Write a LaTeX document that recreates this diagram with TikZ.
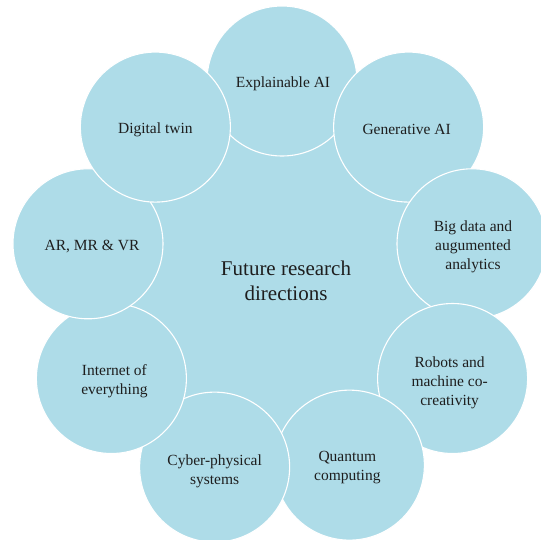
\documentclass[tikz,border=0pt]{standalone}
\usepackage{fontspec}
\setmainfont{Liberation Serif}
\definecolor{bubble}{RGB}{174,220,232}
\definecolor{txt}{RGB}{30,30,30}
\tikzset{
  bub/.style={circle, fill=bubble, draw=white, line width=1.1pt, minimum size=150pt, inner sep=0pt},
  hub/.style={circle, fill=bubble, draw=white, line width=1.1pt, minimum size=320pt, inner sep=0pt},
  lbl/.style={align=center, text=txt, inner sep=0pt, font=\fontsize{15.5}{19}\selectfont},
  hublbl/.style={align=center, text=txt, inner sep=0pt, font=\fontsize{21}{24.5}\selectfont}
}
\begin{document}
\begin{tikzpicture}[x=1pt,y=-1pt]
\useasboundingbox (0,0) rectangle (541,539);
\clip (0,0) rectangle (541,539);
\def\cx{282}\def\cy{278}\def\R{197}
\node[hub] (hub) at (\cx,\cy) {};
\node[hublbl] (hubtext) at (286,281) {Future research\\directions};
\node[bub] (n1) at ({\cx+\R*cos(90)},{\cy-\R*sin(90)}) {};
\node[bub] (n2) at ({\cx+\R*cos(50)},{\cy-\R*sin(50)}) {};
\node[bub] (n3) at ({\cx+\R*cos(10)-4},{\cy-\R*sin(10)}) {};
\node[bub] (n4) at ({\cx+\R*cos(-30)},{\cy-\R*sin(-30)+2}) {};
\node[bub] (n5) at ({\cx+\R*cos(-70)},{\cy-\R*sin(-70)+2}) {};
\node[bub] (n6) at ({\cx+\R*cos(-110)},{\cy-\R*sin(-110)+4}) {};
\node[bub] (n7) at ({\cx+\R*cos(-150)},{\cy-\R*sin(-150)+2}) {};
\node[bub] (n8) at ({\cx+\R*cos(170)},{\cy-\R*sin(170)}) {};
\node[bub] (n9) at ({\cx+\R*cos(130)},{\cy-\R*sin(130)}) {};
\node[lbl] (t1) at ([shift={(1,3)}]n1.center) {Explainable AI};
\node[lbl] (t2) at ([shift={(-2,2)}]n2.center) {Generative AI};
\node[lbl] (t3) at ([shift={(1,3)}]n3.center) {Big data and\\augumented\\analytics};
\node[lbl] (t4) at ([shift={(-3,4)}]n4.center) {Robots and\\machine co-\\creativity};
\node[lbl] (t5) at ([shift={(-2,2)}]n5.center) {Quantum\\computing};
\node[lbl] (t6) at ([shift={(0,4)}]n6.center) {Cyber-physical\\systems};
\node[lbl] (t7) at ([shift={(3,3)}]n7.center) {Internet of\\everything};
\node[lbl] (t8) at ([shift={(4,3)}]n8.center) {AR, MR \& VR};
\node[lbl] (t9) at ([shift={(0,3)}]n9.center) {Digital twin};
\end{tikzpicture}
\end{document}
